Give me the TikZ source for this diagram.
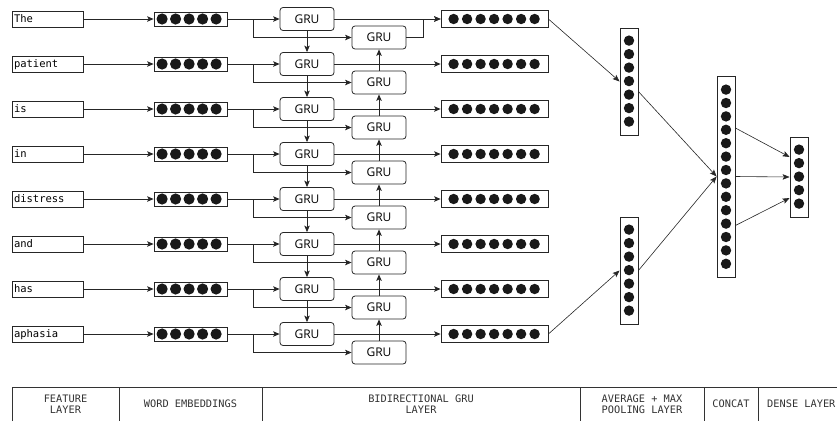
\documentclass[tikz,border=0pt]{standalone}
\usepackage{fontspec}
\setmainfont{Open Sans}
\newfontfamily\monofont{DejaVu Sans Mono}
\usetikzlibrary{arrows.meta,calc}
\newcommand\wordtxt[1]{\makebox[67pt][l]{#1}}
\begin{document}
\begin{tikzpicture}[x=1pt,y=-1pt,
  arr/.style={-{Stealth[length=6.5pt,width=5.5pt,inset=1.5pt]}, line width=0.8pt, draw=black!85},
  thinarr/.style={-{Stealth[length=7pt,width=5.5pt,inset=1.5pt]}, line width=0.6pt, draw=black!85},
  wordbox/.style={draw=black!85, line width=0.8pt, minimum height=16pt, minimum width=71pt, text height=8.8pt, text depth=1.5pt, inner xsep=2pt, inner ysep=0pt, font=\monofont\fontsize{10.5}{12}\selectfont},
  vecbox/.style={draw=black!85, line width=0.8pt, inner sep=0pt},
  grubox/.style={draw=black!85, line width=0.8pt, rounded corners=3pt, minimum width=54pt, minimum height=23pt, inner sep=0pt, font=\fontsize{12}{14}\selectfont},
  dot/.style={fill=black!90},
  tabtext/.style={align=center, text=black!80, font=\monofont\fontsize{10.3}{11.5}\selectfont, inner sep=0pt},
  tabline/.style={line width=0.8pt, draw=black!80}
]
\useasboundingbox (0,0) rectangle (837,421);

% rows
\foreach \w [count=\n from 0] in {The,patient,is,in,distress,and,has,aphasia}{
  \pgfmathsetmacro\yy{19+45*\n}
  \node[wordbox] (w\n) at (47.5,\yy) {\wordtxt{\w}};
  \node[vecbox, minimum width=73pt, minimum height=14pt] (e\n) at (190.5,\yy) {};
  \foreach \k in {0,...,4}{\fill[dot] ($(e\n.west)+(8.5+13.5*\k,0)$) circle (5.6pt);}
  \node[grubox] (f\n) at (307,\yy) {GRU};
  \node[grubox] (b\n) at (379,\yy+18.5) {GRU};
  \node[vecbox, minimum width=107pt, minimum height=17pt] (o\n) at (494.5,\yy) {};
  \foreach \k in {0,...,6}{\fill[dot] ($(o\n.west)+(13+13.5*\k,0)$) circle (5.2pt);}
  \draw[arr] (w\n) -- (e\n);
  \draw[arr] (e\n.east) -- (f\n.west);
  \draw[arr] (e\n.east) -- ++(26,0) |- (b\n.west);
  \draw[arr] (f\n) -- (o\n);
}
\foreach \i/\j in {0/1,1/2,2/3,3/4,4/5,5/6,6/7}{
  \draw[arr] (f\i) -- (f\j);
  \draw[arr] (b\j) -- (b\i);
}
\draw[arr] (b0.east) -- ++(17,0) |- (o0.west);

% pooling
\node[vecbox, minimum width=18pt, minimum height=107pt] (p1) at (629,81.5) {};
\foreach \k in {0,...,6}{\fill[dot] ($(p1.north)+(0,13+13.5*\k)$) circle (5.2pt);}
\node[vecbox, minimum width=18pt, minimum height=107pt] (p2) at (629,270.5) {};
\foreach \k in {0,...,6}{\fill[dot] ($(p2.north)+(0,13+13.5*\k)$) circle (5.2pt);}
% concat
\node[vecbox, minimum width=18pt, minimum height=201pt] (c) at (726,176.5) {};
\foreach \k in {0,...,13}{\fill[dot] ($(c.north)+(0,14+13.4*\k)$) circle (5.2pt);}
% dense
\node[vecbox, minimum width=18pt, minimum height=80pt] (d) at (799,177) {};
\foreach \k in {0,...,4}{\fill[dot] ($(d.north)+(0,13+13.5*\k)$) circle (5.2pt);}

\draw[thinarr] (o0.east) -- (p1.west);
\draw[thinarr] (o7.east) -- (p2.west);
\draw[thinarr] ([yshift=-10pt]p1.east) -- (c.west);
\draw[thinarr] (p2.east) -- (c.west);
\draw[thinarr] ([yshift=48.5pt]c.east) -- ([yshift=20pt]d.west);
\draw[thinarr] (c.east) -- (d.west);
\draw[thinarr] ([yshift=-49pt]c.east) -- ([yshift=-21pt]d.west);

% table
\draw[tabline] (12,421) -- (12,387) -- (837,387);
\foreach \xx in {119,262,580,704,758}{\draw[tabline] (\xx,387) -- (\xx,421);}
\node[tabtext] (t1) at (65.5,404) {FEATURE\\LAYER};
\node[tabtext] (t2) at (190.5,404) {WORD EMBEDDINGS};
\node[tabtext] (t3) at (421,404) {BIDIRECTIONAL GRU\\LAYER};
\node[tabtext] (t4) at (642,404) {AVERAGE + MAX\\POOLING LAYER};
\node[tabtext] (t5) at (731,404) {CONCAT};
\node[tabtext, anchor=west] (t6) at (767,404) {DENSE LAYER};
\end{tikzpicture}
\end{document}
